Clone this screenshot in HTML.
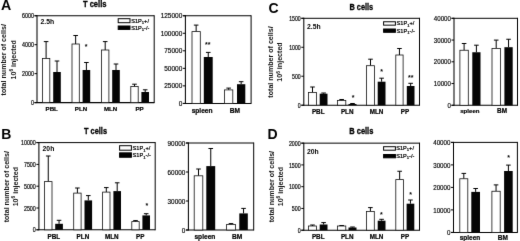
<!DOCTYPE html>
<html><head><meta charset="utf-8"><title>Figure</title>
<style>
html,body{margin:0;padding:0;background:#fff;}
body{width:520px;height:241px;overflow:hidden;font-family:"Liberation Sans", sans-serif;}
svg{display:block;font-family:"Liberation Sans", sans-serif;}
</style></head><body>
<svg width="520" height="241" viewBox="0 0 520 241">
<defs><filter id="soft" filterUnits="userSpaceOnUse" x="0" y="0" width="520" height="241" color-interpolation-filters="sRGB"><feConvolveMatrix order="3" kernelMatrix="0.0052 0.062 0.0052 0.062 0.7312 0.062 0.0052 0.062 0.0052" divisor="1" edgeMode="duplicate" preserveAlpha="true"/></filter></defs>
<g filter="url(#soft)">
<rect x="0" y="0" width="520" height="241" fill="#fff"/>
<text x="1.00" y="10.00" font-size="14.2" text-anchor="start" font-weight="bold" fill="#000" >A</text>
<text transform="translate(94.70,6.90) scale(1.0,1.12)" font-size="7.6" text-anchor="middle" font-weight="bold" fill="#000" stroke="#000" stroke-width="0.25">T cells</text>
<text transform="translate(6.4,59.8) rotate(-90)" font-size="7.1" font-weight="bold" text-anchor="middle" fill="#111">total number of cells/</text>
<text transform="translate(15.7,59.8) rotate(-90)" font-size="7.1" font-weight="bold" text-anchor="middle" fill="#111">10<tspan font-size="4.8" dy="-2.7">6</tspan><tspan dy="2.7"> injected</tspan></text>
<line x1="37.00" y1="15.25" x2="37.00" y2="103.10" stroke="#000" stroke-width="1.05"/>
<line x1="34.50" y1="102.60" x2="154.20" y2="102.60" stroke="#000" stroke-width="1.05"/>
<line x1="34.50" y1="15.75" x2="154.20" y2="15.75" stroke="#000" stroke-width="1.0"/>
<line x1="154.20" y1="15.25" x2="154.20" y2="103.10" stroke="#000" stroke-width="1.0"/>
<line x1="34.50" y1="102.60" x2="37.00" y2="102.60" stroke="#000" stroke-width="1.0"/>
<text transform="translate(33.90,105.21) scale(1.0,1.333)" font-size="5.4" text-anchor="end" font-weight="normal" fill="#000" stroke="#000" stroke-width="0.15">0</text>
<line x1="34.50" y1="73.65" x2="37.00" y2="73.65" stroke="#000" stroke-width="1.0"/>
<text transform="translate(33.90,76.26) scale(1.0,1.333)" font-size="5.4" text-anchor="end" font-weight="normal" fill="#000" stroke="#000" stroke-width="0.15">2000</text>
<line x1="34.50" y1="44.70" x2="37.00" y2="44.70" stroke="#000" stroke-width="1.0"/>
<text transform="translate(33.90,47.31) scale(1.0,1.333)" font-size="5.4" text-anchor="end" font-weight="normal" fill="#000" stroke="#000" stroke-width="0.15">4000</text>
<line x1="34.50" y1="15.75" x2="37.00" y2="15.75" stroke="#000" stroke-width="1.0"/>
<text transform="translate(33.90,18.36) scale(1.0,1.333)" font-size="5.4" text-anchor="end" font-weight="normal" fill="#000" stroke="#000" stroke-width="0.15">6000</text>
<line x1="46.10" y1="41.60" x2="46.10" y2="58.50" stroke="#000" stroke-width="1.0"/>
<line x1="43.80" y1="41.60" x2="48.40" y2="41.60" stroke="#000" stroke-width="1.0"/>
<line x1="57.00" y1="61.00" x2="57.00" y2="72.00" stroke="#000" stroke-width="1.0"/>
<line x1="54.70" y1="61.00" x2="59.30" y2="61.00" stroke="#000" stroke-width="1.0"/>
<rect x="42.40" y="58.50" width="7.40" height="44.10" fill="#fff" stroke="#111" stroke-width="0.8"/>
<rect x="53.20" y="72.00" width="7.60" height="30.60" fill="#050505" stroke="none" stroke-width="0"/>
<line x1="75.65" y1="35.50" x2="75.65" y2="44.00" stroke="#000" stroke-width="1.0"/>
<line x1="73.35" y1="35.50" x2="77.95" y2="35.50" stroke="#000" stroke-width="1.0"/>
<line x1="86.40" y1="62.50" x2="86.40" y2="70.00" stroke="#000" stroke-width="1.0"/>
<line x1="84.10" y1="62.50" x2="88.70" y2="62.50" stroke="#000" stroke-width="1.0"/>
<rect x="72.00" y="44.00" width="7.30" height="58.60" fill="#fff" stroke="#111" stroke-width="0.8"/>
<rect x="82.60" y="70.00" width="7.60" height="32.60" fill="#050505" stroke="none" stroke-width="0"/>
<line x1="105.20" y1="41.60" x2="105.20" y2="50.00" stroke="#000" stroke-width="1.0"/>
<line x1="102.90" y1="41.60" x2="107.50" y2="41.60" stroke="#000" stroke-width="1.0"/>
<line x1="116.00" y1="64.00" x2="116.00" y2="70.00" stroke="#000" stroke-width="1.0"/>
<line x1="113.70" y1="64.00" x2="118.30" y2="64.00" stroke="#000" stroke-width="1.0"/>
<rect x="101.50" y="50.00" width="7.40" height="52.60" fill="#fff" stroke="#111" stroke-width="0.8"/>
<rect x="112.20" y="70.00" width="7.60" height="32.60" fill="#050505" stroke="none" stroke-width="0"/>
<line x1="134.50" y1="84.20" x2="134.50" y2="86.50" stroke="#000" stroke-width="1.0"/>
<line x1="132.20" y1="84.20" x2="136.80" y2="84.20" stroke="#000" stroke-width="1.0"/>
<line x1="145.20" y1="89.80" x2="145.20" y2="92.00" stroke="#000" stroke-width="1.0"/>
<line x1="142.90" y1="89.80" x2="147.50" y2="89.80" stroke="#000" stroke-width="1.0"/>
<rect x="130.80" y="86.50" width="7.40" height="16.10" fill="#fff" stroke="#111" stroke-width="0.8"/>
<rect x="141.40" y="92.00" width="7.60" height="10.60" fill="#050505" stroke="none" stroke-width="0"/>
<text x="51.70" y="111.30" font-size="6.15" text-anchor="middle" font-weight="bold" fill="#000" stroke="#000" stroke-width="0.2">PBL</text>
<text x="81.00" y="111.30" font-size="6.15" text-anchor="middle" font-weight="bold" fill="#000" stroke="#000" stroke-width="0.2">PLN</text>
<text x="110.60" y="111.30" font-size="6.15" text-anchor="middle" font-weight="bold" fill="#000" stroke="#000" stroke-width="0.2">MLN</text>
<text x="139.50" y="111.30" font-size="6.15" text-anchor="middle" font-weight="bold" fill="#000" stroke="#000" stroke-width="0.2">PP</text>
<text x="86.20" y="49.25" font-size="7.0" text-anchor="middle" font-weight="bold" fill="#000" >*</text>
<text x="40.50" y="24.30" font-size="6.8" text-anchor="start" font-weight="bold" fill="#000" >2.5h</text>
<rect x="118.20" y="18.70" width="11.80" height="4.00" fill="#fff" stroke="#000" stroke-width="1.0"/>
<rect x="118.20" y="26.00" width="11.80" height="3.40" fill="#000" stroke="#000" stroke-width="1.0"/>
<text x="131.20" y="23.00" font-size="5.6" fill="#000" stroke="#000" stroke-width="0.22">S1P<tspan font-size="4.2" dy="1.3">1</tspan><tspan dy="-1.3">+/</tspan></text>
<text x="131.20" y="29.90" font-size="5.6" fill="#000" stroke="#000" stroke-width="0.22">S1P<tspan font-size="4.2" dy="1.3">1</tspan><tspan dy="-1.3">-/-</tspan></text>
<line x1="185.40" y1="15.25" x2="185.40" y2="103.90" stroke="#000" stroke-width="1.05"/>
<line x1="182.90" y1="103.40" x2="251.10" y2="103.40" stroke="#000" stroke-width="1.05"/>
<line x1="182.90" y1="15.75" x2="251.10" y2="15.75" stroke="#000" stroke-width="1.0"/>
<line x1="251.10" y1="15.25" x2="251.10" y2="103.90" stroke="#000" stroke-width="1.0"/>
<line x1="182.90" y1="103.40" x2="185.40" y2="103.40" stroke="#000" stroke-width="1.0"/>
<text transform="translate(182.30,106.01) scale(1.0,1.108)" font-size="6.5" text-anchor="end" font-weight="normal" fill="#000" stroke="#000" stroke-width="0.15">0</text>
<line x1="182.90" y1="85.87" x2="185.40" y2="85.87" stroke="#000" stroke-width="1.0"/>
<text transform="translate(182.30,88.48) scale(1.0,1.108)" font-size="6.5" text-anchor="end" font-weight="normal" fill="#000" stroke="#000" stroke-width="0.15">25000</text>
<line x1="182.90" y1="68.34" x2="185.40" y2="68.34" stroke="#000" stroke-width="1.0"/>
<text transform="translate(182.30,70.95) scale(1.0,1.108)" font-size="6.5" text-anchor="end" font-weight="normal" fill="#000" stroke="#000" stroke-width="0.15">50000</text>
<line x1="182.90" y1="50.81" x2="185.40" y2="50.81" stroke="#000" stroke-width="1.0"/>
<text transform="translate(182.30,53.42) scale(1.0,1.108)" font-size="6.5" text-anchor="end" font-weight="normal" fill="#000" stroke="#000" stroke-width="0.15">75000</text>
<line x1="182.90" y1="33.28" x2="185.40" y2="33.28" stroke="#000" stroke-width="1.0"/>
<text transform="translate(182.30,35.89) scale(1.0,1.108)" font-size="6.5" text-anchor="end" font-weight="normal" fill="#000" stroke="#000" stroke-width="0.15">100000</text>
<line x1="182.90" y1="15.75" x2="185.40" y2="15.75" stroke="#000" stroke-width="1.0"/>
<text transform="translate(182.30,18.36) scale(1.0,1.108)" font-size="6.5" text-anchor="end" font-weight="normal" fill="#000" stroke="#000" stroke-width="0.15">125000</text>
<line x1="196.15" y1="25.10" x2="196.15" y2="31.60" stroke="#000" stroke-width="1.0"/>
<line x1="193.85" y1="25.10" x2="198.45" y2="25.10" stroke="#000" stroke-width="1.0"/>
<line x1="208.25" y1="52.40" x2="208.25" y2="57.00" stroke="#000" stroke-width="1.0"/>
<line x1="205.95" y1="52.40" x2="210.55" y2="52.40" stroke="#000" stroke-width="1.0"/>
<rect x="192.00" y="31.60" width="8.30" height="71.80" fill="#fff" stroke="#111" stroke-width="0.8"/>
<rect x="203.80" y="57.00" width="8.90" height="46.40" fill="#050505" stroke="none" stroke-width="0"/>
<line x1="228.65" y1="88.10" x2="228.65" y2="89.90" stroke="#000" stroke-width="1.0"/>
<line x1="226.35" y1="88.10" x2="230.95" y2="88.10" stroke="#000" stroke-width="1.0"/>
<line x1="241.15" y1="81.70" x2="241.15" y2="84.20" stroke="#000" stroke-width="1.0"/>
<line x1="238.85" y1="81.70" x2="243.45" y2="81.70" stroke="#000" stroke-width="1.0"/>
<rect x="224.50" y="89.90" width="8.30" height="13.50" fill="#fff" stroke="#111" stroke-width="0.8"/>
<rect x="237.00" y="84.20" width="8.30" height="19.20" fill="#050505" stroke="none" stroke-width="0"/>
<text x="202.10" y="112.90" font-size="6.6" text-anchor="middle" font-weight="bold" fill="#000" stroke="#000" stroke-width="0.2">spleen</text>
<text x="235.00" y="112.90" font-size="6.6" text-anchor="middle" font-weight="bold" fill="#000" stroke="#000" stroke-width="0.2">BM</text>
<text x="207.80" y="46.65" font-size="7.0" text-anchor="middle" font-weight="bold" fill="#000" >**</text>
<text x="268.40" y="12.60" font-size="14.0" text-anchor="start" font-weight="bold" fill="#000" >C</text>
<text transform="translate(361.30,9.75) scale(0.97,1.15)" font-size="7.6" text-anchor="middle" font-weight="bold" fill="#000" stroke="#000" stroke-width="0.25">B cells</text>
<text transform="translate(273.3,62) rotate(-90)" font-size="7.1" font-weight="bold" text-anchor="middle" fill="#111">total number of cells/</text>
<text transform="translate(282.4,62) rotate(-90)" font-size="7.1" font-weight="bold" text-anchor="middle" fill="#111">10<tspan font-size="4.8" dy="-2.7">6</tspan><tspan dy="2.7"> injected</tspan></text>
<line x1="303.80" y1="17.80" x2="303.80" y2="105.70" stroke="#000" stroke-width="1.05"/>
<line x1="301.30" y1="105.20" x2="419.50" y2="105.20" stroke="#000" stroke-width="1.05"/>
<line x1="301.30" y1="18.30" x2="419.50" y2="18.30" stroke="#000" stroke-width="1.0"/>
<line x1="419.50" y1="17.80" x2="419.50" y2="105.70" stroke="#000" stroke-width="1.0"/>
<line x1="301.30" y1="105.20" x2="303.80" y2="105.20" stroke="#000" stroke-width="1.0"/>
<text transform="translate(300.70,107.81) scale(1.0,1.385)" font-size="5.2" text-anchor="end" font-weight="normal" fill="#000" stroke="#000" stroke-width="0.15">0</text>
<line x1="301.30" y1="76.23" x2="303.80" y2="76.23" stroke="#000" stroke-width="1.0"/>
<text transform="translate(300.70,78.84) scale(1.0,1.385)" font-size="5.2" text-anchor="end" font-weight="normal" fill="#000" stroke="#000" stroke-width="0.15">500</text>
<line x1="301.30" y1="47.27" x2="303.80" y2="47.27" stroke="#000" stroke-width="1.0"/>
<text transform="translate(300.70,49.87) scale(1.0,1.385)" font-size="5.2" text-anchor="end" font-weight="normal" fill="#000" stroke="#000" stroke-width="0.15">1000</text>
<line x1="301.30" y1="18.30" x2="303.80" y2="18.30" stroke="#000" stroke-width="1.0"/>
<text transform="translate(300.70,20.91) scale(1.0,1.385)" font-size="5.2" text-anchor="end" font-weight="normal" fill="#000" stroke="#000" stroke-width="0.15">1500</text>
<line x1="312.50" y1="87.00" x2="312.50" y2="92.50" stroke="#000" stroke-width="1.0"/>
<line x1="310.20" y1="87.00" x2="314.80" y2="87.00" stroke="#000" stroke-width="1.0"/>
<line x1="323.60" y1="93.00" x2="323.60" y2="93.70" stroke="#000" stroke-width="1.0"/>
<line x1="321.30" y1="93.00" x2="325.90" y2="93.00" stroke="#000" stroke-width="1.0"/>
<rect x="308.50" y="92.50" width="8.00" height="12.70" fill="#fff" stroke="#111" stroke-width="0.8"/>
<rect x="319.70" y="93.70" width="7.80" height="11.50" fill="#050505" stroke="none" stroke-width="0"/>
<line x1="341.65" y1="99.50" x2="341.65" y2="100.50" stroke="#000" stroke-width="1.0"/>
<line x1="339.35" y1="99.50" x2="343.95" y2="99.50" stroke="#000" stroke-width="1.0"/>
<line x1="352.50" y1="103.50" x2="352.50" y2="104.00" stroke="#000" stroke-width="1.0"/>
<line x1="350.20" y1="103.50" x2="354.80" y2="103.50" stroke="#000" stroke-width="1.0"/>
<rect x="337.50" y="100.50" width="8.30" height="4.70" fill="#fff" stroke="#111" stroke-width="0.8"/>
<rect x="348.50" y="104.00" width="8.00" height="1.20" fill="#050505" stroke="none" stroke-width="0"/>
<line x1="370.50" y1="59.20" x2="370.50" y2="65.70" stroke="#000" stroke-width="1.0"/>
<line x1="368.20" y1="59.20" x2="372.80" y2="59.20" stroke="#000" stroke-width="1.0"/>
<line x1="381.60" y1="78.20" x2="381.60" y2="81.70" stroke="#000" stroke-width="1.0"/>
<line x1="379.30" y1="78.20" x2="383.90" y2="78.20" stroke="#000" stroke-width="1.0"/>
<rect x="366.50" y="65.70" width="8.00" height="39.50" fill="#fff" stroke="#111" stroke-width="0.8"/>
<rect x="377.70" y="81.70" width="7.80" height="23.50" fill="#050505" stroke="none" stroke-width="0"/>
<line x1="399.45" y1="48.50" x2="399.45" y2="55.00" stroke="#000" stroke-width="1.0"/>
<line x1="397.15" y1="48.50" x2="401.75" y2="48.50" stroke="#000" stroke-width="1.0"/>
<line x1="410.65" y1="83.30" x2="410.65" y2="86.00" stroke="#000" stroke-width="1.0"/>
<line x1="408.35" y1="83.30" x2="412.95" y2="83.30" stroke="#000" stroke-width="1.0"/>
<rect x="395.80" y="55.00" width="7.30" height="50.20" fill="#fff" stroke="#111" stroke-width="0.8"/>
<rect x="406.80" y="86.00" width="7.70" height="19.20" fill="#050505" stroke="none" stroke-width="0"/>
<text x="318.20" y="114.20" font-size="6.3" text-anchor="middle" font-weight="bold" fill="#000" stroke="#000" stroke-width="0.2">PBL</text>
<text x="347.20" y="114.20" font-size="6.3" text-anchor="middle" font-weight="bold" fill="#000" stroke="#000" stroke-width="0.2">PLN</text>
<text x="376.50" y="114.20" font-size="6.3" text-anchor="middle" font-weight="bold" fill="#000" stroke="#000" stroke-width="0.2">MLN</text>
<text x="405.00" y="114.20" font-size="6.3" text-anchor="middle" font-weight="bold" fill="#000" stroke="#000" stroke-width="0.2">PP</text>
<text x="353.00" y="99.55" font-size="7.0" text-anchor="middle" font-weight="bold" fill="#000" >*</text>
<text x="381.50" y="74.25" font-size="7.0" text-anchor="middle" font-weight="bold" fill="#000" >*</text>
<text x="410.80" y="79.95" font-size="7.0" text-anchor="middle" font-weight="bold" fill="#000" >**</text>
<text x="307.00" y="29.00" font-size="6.8" text-anchor="start" font-weight="bold" fill="#000" >2.5h</text>
<rect x="383.60" y="21.75" width="11.80" height="3.40" fill="#fff" stroke="#000" stroke-width="1.0"/>
<rect x="383.60" y="29.00" width="11.80" height="3.30" fill="#000" stroke="#000" stroke-width="1.0"/>
<text x="396.60" y="25.40" font-size="5.6" fill="#000" stroke="#000" stroke-width="0.22">S1P<tspan font-size="4.2" dy="1.3">1</tspan><tspan dy="-1.3">+/</tspan></text>
<text x="396.60" y="32.50" font-size="5.6" fill="#000" stroke="#000" stroke-width="0.22">S1P<tspan font-size="4.2" dy="1.3">1</tspan><tspan dy="-1.3">-/-</tspan></text>
<line x1="454.00" y1="17.80" x2="454.00" y2="105.80" stroke="#000" stroke-width="1.05"/>
<line x1="451.50" y1="105.30" x2="517.50" y2="105.30" stroke="#000" stroke-width="1.05"/>
<line x1="451.50" y1="18.30" x2="517.50" y2="18.30" stroke="#000" stroke-width="1.0"/>
<line x1="517.50" y1="17.80" x2="517.50" y2="105.80" stroke="#000" stroke-width="1.0"/>
<line x1="451.50" y1="105.30" x2="454.00" y2="105.30" stroke="#000" stroke-width="1.0"/>
<text transform="translate(450.90,107.91) scale(1.0,1.171)" font-size="6.15" text-anchor="end" font-weight="normal" fill="#000" stroke="#000" stroke-width="0.15">0</text>
<line x1="451.50" y1="83.55" x2="454.00" y2="83.55" stroke="#000" stroke-width="1.0"/>
<text transform="translate(450.90,86.16) scale(1.0,1.171)" font-size="6.15" text-anchor="end" font-weight="normal" fill="#000" stroke="#000" stroke-width="0.15">10000</text>
<line x1="451.50" y1="61.80" x2="454.00" y2="61.80" stroke="#000" stroke-width="1.0"/>
<text transform="translate(450.90,64.41) scale(1.0,1.171)" font-size="6.15" text-anchor="end" font-weight="normal" fill="#000" stroke="#000" stroke-width="0.15">20000</text>
<line x1="451.50" y1="40.05" x2="454.00" y2="40.05" stroke="#000" stroke-width="1.0"/>
<text transform="translate(450.90,42.66) scale(1.0,1.171)" font-size="6.15" text-anchor="end" font-weight="normal" fill="#000" stroke="#000" stroke-width="0.15">30000</text>
<line x1="451.50" y1="18.30" x2="454.00" y2="18.30" stroke="#000" stroke-width="1.0"/>
<text transform="translate(450.90,20.91) scale(1.0,1.171)" font-size="6.15" text-anchor="end" font-weight="normal" fill="#000" stroke="#000" stroke-width="0.15">40000</text>
<line x1="464.10" y1="43.50" x2="464.10" y2="50.25" stroke="#000" stroke-width="1.0"/>
<line x1="461.80" y1="43.50" x2="466.40" y2="43.50" stroke="#000" stroke-width="1.0"/>
<line x1="476.40" y1="45.20" x2="476.40" y2="52.25" stroke="#000" stroke-width="1.0"/>
<line x1="474.10" y1="45.20" x2="478.70" y2="45.20" stroke="#000" stroke-width="1.0"/>
<rect x="459.90" y="50.25" width="8.40" height="55.05" fill="#fff" stroke="#111" stroke-width="0.8"/>
<rect x="472.30" y="52.25" width="8.20" height="53.05" fill="#050505" stroke="none" stroke-width="0"/>
<line x1="496.20" y1="40.10" x2="496.20" y2="48.40" stroke="#000" stroke-width="1.0"/>
<line x1="493.90" y1="40.10" x2="498.50" y2="40.10" stroke="#000" stroke-width="1.0"/>
<line x1="508.55" y1="39.25" x2="508.55" y2="47.20" stroke="#000" stroke-width="1.0"/>
<line x1="506.25" y1="39.25" x2="510.85" y2="39.25" stroke="#000" stroke-width="1.0"/>
<rect x="492.00" y="48.40" width="8.40" height="56.90" fill="#fff" stroke="#111" stroke-width="0.8"/>
<rect x="504.40" y="47.20" width="8.30" height="58.10" fill="#050505" stroke="none" stroke-width="0"/>
<text x="469.90" y="113.30" font-size="6.1" text-anchor="middle" font-weight="bold" fill="#000" stroke="#000" stroke-width="0.2">spleen</text>
<text x="502.00" y="113.30" font-size="6.4" text-anchor="middle" font-weight="bold" fill="#000" stroke="#000" stroke-width="0.2">BM</text>
<text x="1.20" y="139.20" font-size="14.0" text-anchor="start" font-weight="bold" fill="#000" >B</text>
<text transform="translate(95.50,133.80) scale(0.975,1.25)" font-size="7.6" text-anchor="middle" font-weight="bold" fill="#000" stroke="#000" stroke-width="0.25">T cells</text>
<text transform="translate(9.1,186.7) rotate(-90)" font-size="7.1" font-weight="bold" text-anchor="middle" fill="#111">total number of cells/</text>
<text transform="translate(17.9,186.7) rotate(-90)" font-size="7.1" font-weight="bold" text-anchor="middle" fill="#111">10<tspan font-size="4.8" dy="-2.7">6</tspan><tspan dy="2.7"> injected</tspan></text>
<line x1="38.90" y1="142.10" x2="38.90" y2="230.30" stroke="#000" stroke-width="1.05"/>
<line x1="36.40" y1="229.80" x2="155.20" y2="229.80" stroke="#000" stroke-width="1.05"/>
<line x1="36.40" y1="142.60" x2="155.20" y2="142.60" stroke="#000" stroke-width="1.0"/>
<line x1="155.20" y1="142.10" x2="155.20" y2="230.30" stroke="#000" stroke-width="1.0"/>
<line x1="36.40" y1="229.80" x2="38.90" y2="229.80" stroke="#000" stroke-width="1.0"/>
<text transform="translate(35.80,232.41) scale(1.0,1.346)" font-size="5.35" text-anchor="end" font-weight="normal" fill="#000" stroke="#000" stroke-width="0.15">0</text>
<line x1="36.40" y1="208.00" x2="38.90" y2="208.00" stroke="#000" stroke-width="1.0"/>
<text transform="translate(35.80,210.61) scale(1.0,1.346)" font-size="5.35" text-anchor="end" font-weight="normal" fill="#000" stroke="#000" stroke-width="0.15">2500</text>
<line x1="36.40" y1="186.20" x2="38.90" y2="186.20" stroke="#000" stroke-width="1.0"/>
<text transform="translate(35.80,188.81) scale(1.0,1.346)" font-size="5.35" text-anchor="end" font-weight="normal" fill="#000" stroke="#000" stroke-width="0.15">5000</text>
<line x1="36.40" y1="164.40" x2="38.90" y2="164.40" stroke="#000" stroke-width="1.0"/>
<text transform="translate(35.80,167.01) scale(1.0,1.346)" font-size="5.35" text-anchor="end" font-weight="normal" fill="#000" stroke="#000" stroke-width="0.15">7500</text>
<line x1="36.40" y1="142.60" x2="38.90" y2="142.60" stroke="#000" stroke-width="1.0"/>
<text transform="translate(35.80,145.21) scale(1.0,1.346)" font-size="5.35" text-anchor="end" font-weight="normal" fill="#000" stroke="#000" stroke-width="0.15">10000</text>
<line x1="48.25" y1="156.00" x2="48.25" y2="181.60" stroke="#000" stroke-width="1.0"/>
<line x1="45.95" y1="156.00" x2="50.55" y2="156.00" stroke="#000" stroke-width="1.0"/>
<line x1="59.05" y1="220.30" x2="59.05" y2="223.80" stroke="#000" stroke-width="1.0"/>
<line x1="56.75" y1="220.30" x2="61.35" y2="220.30" stroke="#000" stroke-width="1.0"/>
<rect x="44.50" y="181.60" width="7.50" height="48.20" fill="#fff" stroke="#111" stroke-width="0.8"/>
<rect x="55.20" y="223.80" width="7.70" height="6.00" fill="#050505" stroke="none" stroke-width="0"/>
<line x1="77.40" y1="188.00" x2="77.40" y2="193.10" stroke="#000" stroke-width="1.0"/>
<line x1="75.10" y1="188.00" x2="79.70" y2="188.00" stroke="#000" stroke-width="1.0"/>
<line x1="88.30" y1="195.60" x2="88.30" y2="200.40" stroke="#000" stroke-width="1.0"/>
<line x1="86.00" y1="195.60" x2="90.60" y2="195.60" stroke="#000" stroke-width="1.0"/>
<rect x="73.70" y="193.10" width="7.40" height="36.70" fill="#fff" stroke="#111" stroke-width="0.8"/>
<rect x="84.50" y="200.40" width="7.60" height="29.40" fill="#050505" stroke="none" stroke-width="0"/>
<line x1="106.30" y1="187.60" x2="106.30" y2="192.10" stroke="#000" stroke-width="1.0"/>
<line x1="104.00" y1="187.60" x2="108.60" y2="187.60" stroke="#000" stroke-width="1.0"/>
<line x1="117.20" y1="182.80" x2="117.20" y2="191.10" stroke="#000" stroke-width="1.0"/>
<line x1="114.90" y1="182.80" x2="119.50" y2="182.80" stroke="#000" stroke-width="1.0"/>
<rect x="102.60" y="192.10" width="7.40" height="37.70" fill="#fff" stroke="#111" stroke-width="0.8"/>
<rect x="113.40" y="191.10" width="7.60" height="38.70" fill="#050505" stroke="none" stroke-width="0"/>
<line x1="135.50" y1="220.60" x2="135.50" y2="221.60" stroke="#000" stroke-width="1.0"/>
<line x1="133.20" y1="220.60" x2="137.80" y2="220.60" stroke="#000" stroke-width="1.0"/>
<line x1="146.20" y1="213.70" x2="146.20" y2="215.40" stroke="#000" stroke-width="1.0"/>
<line x1="143.90" y1="213.70" x2="148.50" y2="213.70" stroke="#000" stroke-width="1.0"/>
<rect x="131.80" y="221.60" width="7.40" height="8.20" fill="#fff" stroke="#111" stroke-width="0.8"/>
<rect x="142.40" y="215.40" width="7.60" height="14.40" fill="#050505" stroke="none" stroke-width="0"/>
<text x="53.80" y="238.50" font-size="6.3" text-anchor="middle" font-weight="bold" fill="#000" stroke="#000" stroke-width="0.2">PBL</text>
<text x="82.90" y="238.50" font-size="6.3" text-anchor="middle" font-weight="bold" fill="#000" stroke="#000" stroke-width="0.2">PLN</text>
<text x="111.80" y="238.50" font-size="6.3" text-anchor="middle" font-weight="bold" fill="#000" stroke="#000" stroke-width="0.2">MLN</text>
<text x="140.30" y="238.50" font-size="6.3" text-anchor="middle" font-weight="bold" fill="#000" stroke="#000" stroke-width="0.2">PP</text>
<text x="146.80" y="208.35" font-size="7.0" text-anchor="middle" font-weight="bold" fill="#000" >*</text>
<text x="42.60" y="151.00" font-size="6.8" text-anchor="start" font-weight="bold" fill="#000" >20h</text>
<rect x="119.60" y="145.70" width="11.80" height="4.50" fill="#fff" stroke="#000" stroke-width="1.0"/>
<rect x="119.60" y="152.85" width="11.80" height="4.40" fill="#000" stroke="#000" stroke-width="1.0"/>
<text x="132.60" y="150.20" font-size="5.6" fill="#000" stroke="#000" stroke-width="0.22">S1P<tspan font-size="4.2" dy="1.3">1</tspan><tspan dy="-1.3">+/</tspan></text>
<text x="132.60" y="157.35" font-size="5.6" fill="#000" stroke="#000" stroke-width="0.22">S1P<tspan font-size="4.2" dy="1.3">1</tspan><tspan dy="-1.3">-/-</tspan></text>
<line x1="188.40" y1="142.50" x2="188.40" y2="230.50" stroke="#000" stroke-width="1.05"/>
<line x1="185.90" y1="230.00" x2="253.70" y2="230.00" stroke="#000" stroke-width="1.05"/>
<line x1="185.90" y1="143.00" x2="253.70" y2="143.00" stroke="#000" stroke-width="1.0"/>
<line x1="253.70" y1="142.50" x2="253.70" y2="230.50" stroke="#000" stroke-width="1.0"/>
<line x1="185.90" y1="230.00" x2="188.40" y2="230.00" stroke="#000" stroke-width="1.0"/>
<text transform="translate(185.30,232.61) scale(1.0,1.125)" font-size="6.4" text-anchor="end" font-weight="normal" fill="#000" stroke="#000" stroke-width="0.15">0</text>
<line x1="185.90" y1="201.00" x2="188.40" y2="201.00" stroke="#000" stroke-width="1.0"/>
<text transform="translate(185.30,203.61) scale(1.0,1.125)" font-size="6.4" text-anchor="end" font-weight="normal" fill="#000" stroke="#000" stroke-width="0.15">30000</text>
<line x1="185.90" y1="172.00" x2="188.40" y2="172.00" stroke="#000" stroke-width="1.0"/>
<text transform="translate(185.30,174.61) scale(1.0,1.125)" font-size="6.4" text-anchor="end" font-weight="normal" fill="#000" stroke="#000" stroke-width="0.15">60000</text>
<line x1="185.90" y1="143.00" x2="188.40" y2="143.00" stroke="#000" stroke-width="1.0"/>
<text transform="translate(185.30,145.61) scale(1.0,1.125)" font-size="6.4" text-anchor="end" font-weight="normal" fill="#000" stroke="#000" stroke-width="0.15">90000</text>
<line x1="198.50" y1="169.00" x2="198.50" y2="175.80" stroke="#000" stroke-width="1.0"/>
<line x1="196.20" y1="169.00" x2="200.80" y2="169.00" stroke="#000" stroke-width="1.0"/>
<line x1="210.75" y1="148.50" x2="210.75" y2="166.10" stroke="#000" stroke-width="1.0"/>
<line x1="208.45" y1="148.50" x2="213.05" y2="148.50" stroke="#000" stroke-width="1.0"/>
<rect x="194.20" y="175.80" width="8.60" height="54.20" fill="#fff" stroke="#111" stroke-width="0.8"/>
<rect x="206.30" y="166.10" width="8.90" height="63.90" fill="#050505" stroke="none" stroke-width="0"/>
<line x1="231.00" y1="223.60" x2="231.00" y2="224.50" stroke="#000" stroke-width="1.0"/>
<line x1="228.70" y1="223.60" x2="233.30" y2="223.60" stroke="#000" stroke-width="1.0"/>
<line x1="243.55" y1="208.40" x2="243.55" y2="213.40" stroke="#000" stroke-width="1.0"/>
<line x1="241.25" y1="208.40" x2="245.85" y2="208.40" stroke="#000" stroke-width="1.0"/>
<rect x="226.60" y="224.50" width="8.80" height="5.50" fill="#fff" stroke="#111" stroke-width="0.8"/>
<rect x="239.30" y="213.40" width="8.50" height="16.60" fill="#050505" stroke="none" stroke-width="0"/>
<text x="204.90" y="238.80" font-size="6.6" text-anchor="middle" font-weight="bold" fill="#000" stroke="#000" stroke-width="0.2">spleen</text>
<text x="237.10" y="238.80" font-size="6.6" text-anchor="middle" font-weight="bold" fill="#000" stroke="#000" stroke-width="0.2">BM</text>
<text x="267.40" y="138.70" font-size="14.0" text-anchor="start" font-weight="bold" fill="#000" >D</text>
<text transform="translate(361.30,134.20) scale(0.985,1.3)" font-size="7.6" text-anchor="middle" font-weight="bold" fill="#000" stroke="#000" stroke-width="0.25">B cells</text>
<text transform="translate(273.6,186.6) rotate(-90)" font-size="7.1" font-weight="bold" text-anchor="middle" fill="#111">total number of cells/</text>
<text transform="translate(283.0,186.6) rotate(-90)" font-size="7.1" font-weight="bold" text-anchor="middle" fill="#111">10<tspan font-size="4.8" dy="-2.7">6</tspan><tspan dy="2.7"> injected</tspan></text>
<line x1="303.80" y1="142.65" x2="303.80" y2="230.70" stroke="#000" stroke-width="1.05"/>
<line x1="301.30" y1="230.20" x2="419.50" y2="230.20" stroke="#000" stroke-width="1.05"/>
<line x1="301.30" y1="143.15" x2="419.50" y2="143.15" stroke="#000" stroke-width="1.0"/>
<line x1="419.50" y1="142.65" x2="419.50" y2="230.70" stroke="#000" stroke-width="1.0"/>
<line x1="301.30" y1="230.20" x2="303.80" y2="230.20" stroke="#000" stroke-width="1.0"/>
<text transform="translate(300.70,232.81) scale(1.0,1.358)" font-size="5.3" text-anchor="end" font-weight="normal" fill="#000" stroke="#000" stroke-width="0.15">0</text>
<line x1="301.30" y1="208.44" x2="303.80" y2="208.44" stroke="#000" stroke-width="1.0"/>
<text transform="translate(300.70,211.04) scale(1.0,1.358)" font-size="5.3" text-anchor="end" font-weight="normal" fill="#000" stroke="#000" stroke-width="0.15">500</text>
<line x1="301.30" y1="186.68" x2="303.80" y2="186.68" stroke="#000" stroke-width="1.0"/>
<text transform="translate(300.70,189.28) scale(1.0,1.358)" font-size="5.3" text-anchor="end" font-weight="normal" fill="#000" stroke="#000" stroke-width="0.15">1000</text>
<line x1="301.30" y1="164.91" x2="303.80" y2="164.91" stroke="#000" stroke-width="1.0"/>
<text transform="translate(300.70,167.52) scale(1.0,1.358)" font-size="5.3" text-anchor="end" font-weight="normal" fill="#000" stroke="#000" stroke-width="0.15">1500</text>
<line x1="301.30" y1="143.15" x2="303.80" y2="143.15" stroke="#000" stroke-width="1.0"/>
<text transform="translate(300.70,145.76) scale(1.0,1.358)" font-size="5.3" text-anchor="end" font-weight="normal" fill="#000" stroke="#000" stroke-width="0.15">2000</text>
<line x1="312.50" y1="225.00" x2="312.50" y2="226.00" stroke="#000" stroke-width="1.0"/>
<line x1="310.20" y1="225.00" x2="314.80" y2="225.00" stroke="#000" stroke-width="1.0"/>
<line x1="323.60" y1="222.60" x2="323.60" y2="224.50" stroke="#000" stroke-width="1.0"/>
<line x1="321.30" y1="222.60" x2="325.90" y2="222.60" stroke="#000" stroke-width="1.0"/>
<rect x="308.50" y="226.00" width="8.00" height="4.20" fill="#fff" stroke="#111" stroke-width="0.8"/>
<rect x="319.70" y="224.50" width="7.80" height="5.70" fill="#050505" stroke="none" stroke-width="0"/>
<line x1="341.65" y1="225.50" x2="341.65" y2="226.00" stroke="#000" stroke-width="1.0"/>
<line x1="339.35" y1="225.50" x2="343.95" y2="225.50" stroke="#000" stroke-width="1.0"/>
<line x1="352.50" y1="227.00" x2="352.50" y2="227.50" stroke="#000" stroke-width="1.0"/>
<line x1="350.20" y1="227.00" x2="354.80" y2="227.00" stroke="#000" stroke-width="1.0"/>
<rect x="337.50" y="226.00" width="8.30" height="4.20" fill="#fff" stroke="#111" stroke-width="0.8"/>
<rect x="348.50" y="227.50" width="8.00" height="2.70" fill="#050505" stroke="none" stroke-width="0"/>
<line x1="370.40" y1="207.60" x2="370.40" y2="211.40" stroke="#000" stroke-width="1.0"/>
<line x1="368.10" y1="207.60" x2="372.70" y2="207.60" stroke="#000" stroke-width="1.0"/>
<line x1="381.60" y1="219.30" x2="381.60" y2="220.70" stroke="#000" stroke-width="1.0"/>
<line x1="379.30" y1="219.30" x2="383.90" y2="219.30" stroke="#000" stroke-width="1.0"/>
<rect x="366.50" y="211.40" width="7.80" height="18.80" fill="#fff" stroke="#111" stroke-width="0.8"/>
<rect x="377.70" y="220.70" width="7.80" height="9.50" fill="#050505" stroke="none" stroke-width="0"/>
<line x1="399.65" y1="171.25" x2="399.65" y2="179.60" stroke="#000" stroke-width="1.0"/>
<line x1="397.35" y1="171.25" x2="401.95" y2="171.25" stroke="#000" stroke-width="1.0"/>
<line x1="410.45" y1="200.00" x2="410.45" y2="203.70" stroke="#000" stroke-width="1.0"/>
<line x1="408.15" y1="200.00" x2="412.75" y2="200.00" stroke="#000" stroke-width="1.0"/>
<rect x="395.80" y="179.60" width="7.70" height="50.60" fill="#fff" stroke="#111" stroke-width="0.8"/>
<rect x="406.60" y="203.70" width="7.70" height="26.50" fill="#050505" stroke="none" stroke-width="0"/>
<text x="318.20" y="239.00" font-size="6.3" text-anchor="middle" font-weight="bold" fill="#000" stroke="#000" stroke-width="0.2">PBL</text>
<text x="347.20" y="239.00" font-size="6.3" text-anchor="middle" font-weight="bold" fill="#000" stroke="#000" stroke-width="0.2">PLN</text>
<text x="376.50" y="239.00" font-size="6.3" text-anchor="middle" font-weight="bold" fill="#000" stroke="#000" stroke-width="0.2">MLN</text>
<text x="405.00" y="239.00" font-size="6.3" text-anchor="middle" font-weight="bold" fill="#000" stroke="#000" stroke-width="0.2">PP</text>
<text x="381.30" y="217.35" font-size="7.0" text-anchor="middle" font-weight="bold" fill="#000" >*</text>
<text x="410.50" y="197.15" font-size="7.0" text-anchor="middle" font-weight="bold" fill="#000" >*</text>
<text x="307.00" y="153.50" font-size="6.8" text-anchor="start" font-weight="bold" fill="#000" >20h</text>
<rect x="383.60" y="146.70" width="11.80" height="3.50" fill="#fff" stroke="#000" stroke-width="1.0"/>
<rect x="383.60" y="154.50" width="11.80" height="3.30" fill="#000" stroke="#000" stroke-width="1.0"/>
<text x="396.20" y="149.80" font-size="5.6" fill="#000" stroke="#000" stroke-width="0.22">S1P<tspan font-size="4.2" dy="1.3">1</tspan><tspan dy="-1.3">+/</tspan></text>
<text x="396.20" y="157.65" font-size="5.6" fill="#000" stroke="#000" stroke-width="0.22">S1P<tspan font-size="4.2" dy="1.3">1</tspan><tspan dy="-1.3">-/-</tspan></text>
<line x1="453.50" y1="141.90" x2="453.50" y2="232.90" stroke="#000" stroke-width="1.05"/>
<line x1="451.00" y1="232.40" x2="517.40" y2="232.40" stroke="#000" stroke-width="1.05"/>
<line x1="451.00" y1="142.40" x2="517.40" y2="142.40" stroke="#000" stroke-width="1.0"/>
<line x1="517.40" y1="141.90" x2="517.40" y2="232.90" stroke="#000" stroke-width="1.0"/>
<line x1="451.00" y1="232.40" x2="453.50" y2="232.40" stroke="#000" stroke-width="1.0"/>
<text transform="translate(450.40,235.01) scale(1.0,1.161)" font-size="6.2" text-anchor="end" font-weight="normal" fill="#000" stroke="#000" stroke-width="0.15">0</text>
<line x1="451.00" y1="209.90" x2="453.50" y2="209.90" stroke="#000" stroke-width="1.0"/>
<text transform="translate(450.40,212.51) scale(1.0,1.161)" font-size="6.2" text-anchor="end" font-weight="normal" fill="#000" stroke="#000" stroke-width="0.15">10000</text>
<line x1="451.00" y1="187.40" x2="453.50" y2="187.40" stroke="#000" stroke-width="1.0"/>
<text transform="translate(450.40,190.01) scale(1.0,1.161)" font-size="6.2" text-anchor="end" font-weight="normal" fill="#000" stroke="#000" stroke-width="0.15">20000</text>
<line x1="451.00" y1="164.90" x2="453.50" y2="164.90" stroke="#000" stroke-width="1.0"/>
<text transform="translate(450.40,167.51) scale(1.0,1.161)" font-size="6.2" text-anchor="end" font-weight="normal" fill="#000" stroke="#000" stroke-width="0.15">30000</text>
<line x1="451.00" y1="142.40" x2="453.50" y2="142.40" stroke="#000" stroke-width="1.0"/>
<text transform="translate(450.40,145.01) scale(1.0,1.161)" font-size="6.2" text-anchor="end" font-weight="normal" fill="#000" stroke="#000" stroke-width="0.15">40000</text>
<line x1="463.80" y1="173.40" x2="463.80" y2="178.75" stroke="#000" stroke-width="1.0"/>
<line x1="461.50" y1="173.40" x2="466.10" y2="173.40" stroke="#000" stroke-width="1.0"/>
<line x1="475.65" y1="188.50" x2="475.65" y2="191.90" stroke="#000" stroke-width="1.0"/>
<line x1="473.35" y1="188.50" x2="477.95" y2="188.50" stroke="#000" stroke-width="1.0"/>
<rect x="459.80" y="178.75" width="8.00" height="53.65" fill="#fff" stroke="#111" stroke-width="0.8"/>
<rect x="471.30" y="191.90" width="8.70" height="40.50" fill="#050505" stroke="none" stroke-width="0"/>
<line x1="496.05" y1="184.90" x2="496.05" y2="191.25" stroke="#000" stroke-width="1.0"/>
<line x1="493.75" y1="184.90" x2="498.35" y2="184.90" stroke="#000" stroke-width="1.0"/>
<line x1="508.40" y1="165.10" x2="508.40" y2="171.00" stroke="#000" stroke-width="1.0"/>
<line x1="506.10" y1="165.10" x2="510.70" y2="165.10" stroke="#000" stroke-width="1.0"/>
<rect x="491.90" y="191.25" width="8.30" height="41.15" fill="#fff" stroke="#111" stroke-width="0.8"/>
<rect x="504.10" y="171.00" width="8.60" height="61.40" fill="#050505" stroke="none" stroke-width="0"/>
<text x="470.00" y="240.00" font-size="6.5" text-anchor="middle" font-weight="bold" fill="#000" stroke="#000" stroke-width="0.2">spleen</text>
<text x="502.90" y="240.00" font-size="6.5" text-anchor="middle" font-weight="bold" fill="#000" stroke="#000" stroke-width="0.2">BM</text>
<text x="508.50" y="160.25" font-size="7.0" text-anchor="middle" font-weight="bold" fill="#000" >*</text>
</g>
</svg>
</body></html>
